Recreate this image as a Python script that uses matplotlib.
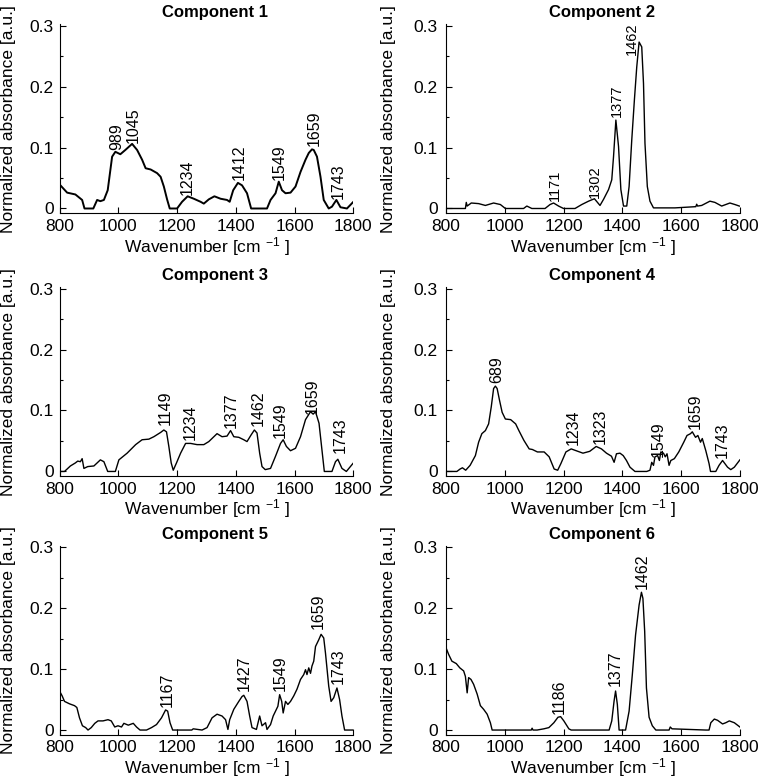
import matplotlib

matplotlib.use("Agg")
import matplotlib.pyplot as plt  # noqa: E402
from matplotlib.ticker import MultipleLocator  # noqa: E402

# ---- spectra (wavenumber cm^-1, normalized absorbance) ----
WN1 = [803, 826, 854, 877, 885, 915, 928, 939, 951, 964, 979, 990, 1007, 1024, 1047, 1064, 1081,
       1093, 1110, 1132, 1144, 1155, 1166, 1175, 1200, 1217, 1236, 1257, 1280, 1291, 1308, 1327,
       1348, 1370, 1379, 1391, 1407, 1421, 1438, 1452, 1506, 1518, 1535, 1546, 1557, 1569, 1586,
       1603, 1620, 1637, 1648, 1659, 1665, 1676, 1688, 1699, 1716, 1727, 1742, 1756, 1778, 1800]
AB1 = [0.038, 0.026, 0.023, 0.014, 0.0, 0.0, 0.014, 0.012, 0.014, 0.030, 0.085, 0.093, 0.089,
       0.096, 0.106, 0.096, 0.080, 0.066, 0.064, 0.058, 0.052, 0.036, 0.015, 0.0, 0.0, 0.011,
       0.020, 0.016, 0.011, 0.008, 0.015, 0.020, 0.016, 0.014, 0.011, 0.030, 0.042, 0.038, 0.025,
       0.0, 0.0, 0.014, 0.025, 0.044, 0.030, 0.025, 0.026, 0.036, 0.060, 0.080, 0.091, 0.097,
       0.096, 0.085, 0.052, 0.014, 0.0, 0.003, 0.014, 0.002, 0.0, 0.011]

WN2 = [800, 866, 869, 872, 886, 911, 934, 962, 985, 1002, 1064, 1075, 1092, 1137, 1154, 1166,
       1183, 1200, 1239, 1262, 1285, 1305, 1324, 1336, 1353, 1364, 1370, 1378, 1387, 1395, 1404,
       1415, 1423, 1432, 1441, 1449, 1457, 1466, 1472, 1477, 1485, 1494, 1506, 1579, 1650, 1653,
       1656, 1670, 1698, 1715, 1738, 1766, 1783, 1798]
AB2 = [0.0, 0.0, 0.010, 0.004, 0.009, 0.008, 0.005, 0.009, 0.0065, 0.0, 0.0, 0.004, 0.0, 0.0,
       0.0065, 0.009, 0.004, 0.0, 0.0, 0.0065, 0.012, 0.016, 0.005, 0.015, 0.031, 0.047, 0.085,
       0.145, 0.102, 0.031, 0.004, 0.004, 0.036, 0.112, 0.178, 0.232, 0.273, 0.265, 0.205, 0.107,
       0.036, 0.012, 0.001, 0.001, 0.003, 0.007, 0.004, 0.005, 0.012, 0.010, 0.004, 0.009, 0.0065,
       0.004]

WN3 = [802, 817, 837, 854, 862, 871, 877, 883, 896, 917, 939, 951, 964, 990, 1002, 1030, 1059,
       1081, 1104, 1121, 1144, 1155, 1164, 1172, 1180, 1187, 1198, 1212, 1229, 1246, 1268, 1291,
       1308, 1336, 1353, 1370, 1382, 1393, 1410, 1427, 1438, 1452, 1463, 1472, 1481, 1489, 1500,
       1518, 1535, 1552, 1561, 1572, 1586, 1603, 1620, 1637, 1654, 1663, 1671, 1683, 1693, 1701,
       1727, 1739, 1747, 1761, 1776, 1800]
AB3 = [0.0, 0.0, 0.009, 0.014, 0.017, 0.016, 0.021, 0.005, 0.008, 0.009, 0.019, 0.016, 0.0, 0.0,
       0.019, 0.030, 0.044, 0.052, 0.053, 0.057, 0.064, 0.068, 0.065, 0.041, 0.014, 0.002, 0.014,
       0.030, 0.046, 0.046, 0.044, 0.044, 0.049, 0.062, 0.057, 0.058, 0.067, 0.057, 0.056, 0.052,
       0.049, 0.060, 0.068, 0.063, 0.030, 0.008, 0.003, 0.005, 0.025, 0.046, 0.052, 0.041, 0.034,
       0.038, 0.057, 0.085, 0.098, 0.094, 0.098, 0.079, 0.035, 0.0, 0.0, 0.016, 0.020, 0.005, 0.0,
       0.014]

WN4 = [800, 837, 848, 856, 867, 882, 900, 911, 922, 934, 945, 954, 962, 968, 974, 982, 991, 1002,
       1020, 1037, 1048, 1065, 1083, 1094, 1111, 1134, 1151, 1168, 1180, 1191, 1208, 1226, 1243,
       1266, 1289, 1311, 1329, 1346, 1363, 1372, 1380, 1392, 1403, 1414, 1426, 1443, 1483, 1494,
       1500, 1506, 1511, 1520, 1526, 1531, 1540, 1546, 1552, 1559, 1565, 1577, 1592, 1609, 1620,
       1632, 1638, 1649, 1657, 1666, 1672, 1684, 1695, 1700, 1718, 1729, 1741, 1758, 1769, 1781,
       1800]
AB4 = [0.0, 0.0, 0.004, 0.006, 0.002, 0.010, 0.026, 0.048, 0.062, 0.067, 0.078, 0.106, 0.136,
       0.140, 0.136, 0.117, 0.097, 0.086, 0.085, 0.078, 0.067, 0.051, 0.037, 0.036, 0.032, 0.032,
       0.024, 0.004, 0.002, 0.013, 0.032, 0.037, 0.034, 0.030, 0.033, 0.041, 0.037, 0.030, 0.025,
       0.015, 0.029, 0.030, 0.026, 0.018, 0.007, 0.0, 0.0, 0.002, 0.015, 0.010, 0.024, 0.026,
       0.018, 0.032, 0.030, 0.024, 0.029, 0.010, 0.018, 0.021, 0.032, 0.048, 0.059, 0.062, 0.065,
       0.056, 0.059, 0.048, 0.054, 0.034, 0.013, 0.0, 0.0, 0.010, 0.018, 0.007, 0.003, 0.007, 0.019]

WN5 = [800, 809, 817, 834, 851, 859, 868, 878, 889, 897, 908, 920, 931, 948, 965, 976, 988, 999,
       1011, 1019, 1034, 1051, 1062, 1074, 1096, 1113, 1130, 1147, 1161, 1168, 1176, 1185, 1250,
       1255, 1285, 1302, 1319, 1336, 1353, 1365, 1373, 1379, 1393, 1410, 1421, 1427, 1438, 1447,
       1455, 1470, 1478, 1481, 1489, 1501, 1506, 1518, 1527, 1535, 1543, 1549, 1556, 1561, 1569,
       1577, 1586, 1597, 1608, 1620, 1631, 1637, 1642, 1648, 1654, 1659, 1665, 1671, 1682, 1690,
       1699, 1705, 1716, 1724, 1733, 1744, 1753, 1761, 1770, 1800]
AB5 = [0.064, 0.056, 0.047, 0.043, 0.040, 0.037, 0.020, 0.007, 0.004, 0.0, 0.004, 0.011, 0.015,
       0.015, 0.017, 0.015, 0.005, 0.007, 0.005, 0.011, 0.008, 0.011, 0.005, 0.0, 0.0, 0.004,
       0.009, 0.020, 0.033, 0.031, 0.012, 0.0, 0.0, 0.002, 0.0, 0.004, 0.020, 0.026, 0.023, 0.017,
       0.001, 0.017, 0.034, 0.047, 0.055, 0.057, 0.047, 0.023, 0.004, 0.001, 0.017, 0.023, 0.007,
       0.012, 0.001, 0.009, 0.023, 0.031, 0.039, 0.058, 0.047, 0.028, 0.047, 0.042, 0.047, 0.056,
       0.067, 0.083, 0.091, 0.099, 0.091, 0.102, 0.093, 0.105, 0.113, 0.137, 0.148, 0.157, 0.151,
       0.126, 0.072, 0.047, 0.053, 0.069, 0.050, 0.023, 0.0, 0.0]

WN6 = [800, 809, 820, 835, 847, 860, 866, 872, 877, 885, 894, 906, 917, 928, 940, 951, 957, 1053,
       1090, 1093, 1096, 1110, 1133, 1150, 1167, 1181, 1190, 1201, 1218, 1226, 1355, 1364, 1372,
       1377, 1383, 1389, 1411, 1423, 1434, 1445, 1457, 1465, 1470, 1476, 1482, 1491, 1502, 1514,
       1559, 1563, 1569, 1684, 1695, 1701, 1713, 1724, 1741, 1752, 1764, 1781, 1800]
AB6 = [0.135, 0.124, 0.113, 0.109, 0.102, 0.097, 0.088, 0.061, 0.086, 0.083, 0.075, 0.059, 0.040,
       0.034, 0.026, 0.012, 0.0, 0.0, 0.0, 0.003, 0.0, 0.0, 0.002, 0.004, 0.012, 0.021, 0.022,
       0.015, 0.002, 0.0, 0.0, 0.015, 0.048, 0.064, 0.042, 0.0, 0.0, 0.031, 0.091, 0.156, 0.205,
       0.226, 0.216, 0.162, 0.069, 0.021, 0.007, 0.0, 0.0, 0.005, 0.002, 0.0, 0.0, 0.012, 0.018,
       0.016, 0.010, 0.012, 0.015, 0.012, 0.005]

# ---- peak labels: text, anchor wavenumber, anchor absorbance ----
LAB1 = ["989", "1045", "1234", "1412", "1549", "1659", "1743"]
LX1 = [994, 1051, 1236, 1410, 1546, 1667, 1747]
LY1 = [0.096, 0.108, 0.022, 0.047, 0.047, 0.102, 0.015]

LAB2 = ["1171", "1302", "1377", "1462"]
LX2 = [1171, 1307, 1380, 1434]
LY2 = [0.012, 0.017, 0.150, 0.252]

LAB3 = ["1149", "1234", "1377", "1462", "1549", "1659", "1743"]
LX3 = [1161, 1246, 1385, 1475, 1552, 1659, 1756]
LY3 = [0.076, 0.052, 0.071, 0.074, 0.055, 0.095, 0.030]

LAB4 = ["689", "1234", "1323", "1549", "1659", "1743"]
LX4 = [974, 1232, 1325, 1523, 1649, 1741]
LY4 = [0.145, 0.043, 0.045, 0.024, 0.070, 0.022]

LAB5 = ["1167", "1427", "1549", "1659", "1743"]
LX5 = [1166, 1427, 1552, 1682, 1750]
LY5 = [0.037, 0.064, 0.064, 0.165, 0.075]

LAB6 = ["1186", "1377", "1462"]
LX6 = [1184, 1377, 1468]
LY6 = [0.026, 0.072, 0.232]

PANELS = [
    ("Component 1", WN1, AB1, LAB1, LX1, LY1),
    ("Component 2", WN2, AB2, LAB2, LX2, LY2),
    ("Component 3", WN3, AB3, LAB3, LX3, LY3),
    ("Component 4", WN4, AB4, LAB4, LX4, LY4),
    ("Component 5", WN5, AB5, LAB5, LX5, LY5),
    ("Component 6", WN6, AB6, LAB6, LX6, LY6),
]
XTICKS = [800, 1000, 1200, 1400, 1600, 1800]
YTICKS = [0, 0.1, 0.2, 0.3]
YTICKLABELS = ["0", "0.1", "0.2", "0.3"]

plt.rcParams["font.family"] = ["Liberation Sans", "DejaVu Sans"]
plt.rcParams["mathtext.fontset"] = "custom"
plt.rcParams["mathtext.rm"] = "Liberation Sans"
plt.rcParams["mathtext.default"] = "rm"
plt.rcParams["axes.linewidth"] = 0.8

fig = plt.figure(figsize=(7.62, 7.81), dpi=100)
lefts = [0.0781, 0.5853]
bottoms = [0.7268, 0.3901, 0.059]
w, h = 0.3857, 0.242

for i, (title, wn, ab, labs, lx, ly) in enumerate(PANELS):
    row, col = divmod(i, 2)
    ax = fig.add_axes([lefts[col], bottoms[row], w, h])
    ax.plot(wn, ab, color="black", lw=1.4 if i == 0 else 1.0)
    fs = 10.5 if i == 1 else 11.5
    for t, x, y in zip(labs, lx, ly):
        ax.text(x, y, t, rotation=90, ha="center", va="bottom", fontsize=fs, clip_on=False)
    ax.set_xlim(800, 1800)
    ax.set_ylim(-0.008, 0.302)
    ax.set_xticks(XTICKS)
    ax.set_yticks(YTICKS)
    ax.set_yticklabels(YTICKLABELS)
    ax.yaxis.set_minor_locator(MultipleLocator(0.05))
    ax.spines["top"].set_visible(False)
    ax.spines["right"].set_visible(False)
    ax.tick_params(direction="in", length=4, width=0.8, labelsize=12.5, pad=4)
    ax.tick_params(axis="y", pad=4 if col == 0 else 6)
    ax.tick_params(which="minor", direction="in", length=2.5, width=0.8)
    ax.set_title(title, fontsize=12, fontweight="bold", pad=5, x=0.53)
    ax.set_xlabel(r"Wavenumber [cm $^{-1}$ ]", fontsize=12.5, va="baseline")
    ax.xaxis.set_label_coords(0.5, -0.204)
    ax.set_ylabel("Normalized absorbance [a.u.]", fontsize=12.5, va="center")
    ax.yaxis.set_label_coords(-0.173 if col == 0 else -0.194, 0.5)

fig.savefig("out.png", dpi=100)
